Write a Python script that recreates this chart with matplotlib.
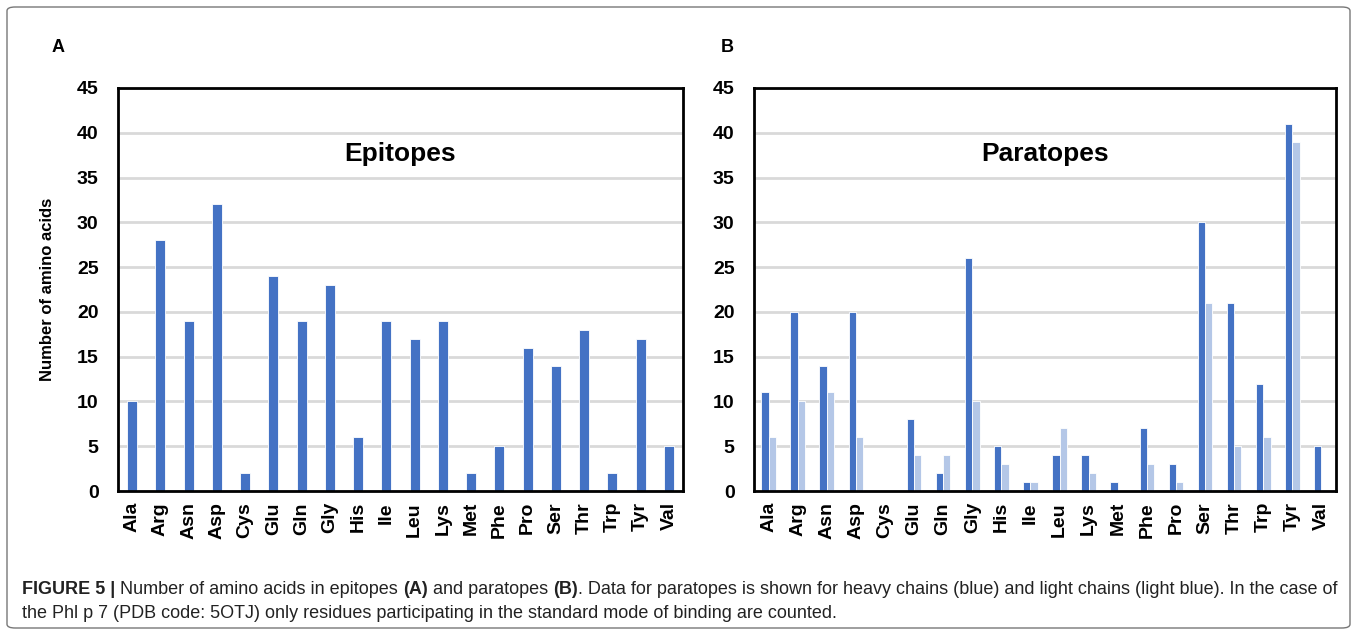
import numpy as np
import matplotlib
matplotlib.use("Agg")
import matplotlib.pyplot as plt
from matplotlib.patches import FancyBboxPatch

plt.rcParams['font.family'] = ['Liberation Sans', 'DejaVu Sans']

amino = ['Ala', 'Arg', 'Asn', 'Asp', 'Cys', 'Glu', 'Gln', 'Gly', 'His', 'Ile',
         'Leu', 'Lys', 'Met', 'Phe', 'Pro', 'Ser', 'Thr', 'Trp', 'Tyr', 'Val']
epitopes = [10, 28, 19, 32, 2, 24, 19, 23, 6, 19, 17, 19, 2, 5, 16, 14, 18, 2, 17, 5]
heavy = [11, 20, 14, 20, 0, 8, 2, 26, 5, 1, 4, 4, 1, 7, 3, 30, 21, 12, 41, 5]
light = [6, 10, 11, 6, 0, 4, 4, 10, 3, 1, 7, 2, 0, 3, 1, 21, 5, 6, 39, 0]
yticks = [0, 5, 10, 15, 20, 25, 30, 35, 40, 45]

BLUE = '#4472C4'
LIGHT = '#B4C7E7'

W, H = 1357, 635
fig = plt.figure(figsize=(W / 100, H / 100), dpi=100)

# outer rounded box
box = FancyBboxPatch((7 / W, 7 / H), (1343) / W, (621) / H,
                     boxstyle="round,pad=0,rounding_size=0.006",
                     transform=fig.transFigure, facecolor='none',
                     edgecolor='#777777', linewidth=1.0)
fig.patches.append(box)


def style_axes(ax, title):
    ax.set_ylim(0, 45)
    ax.set_xlim(-0.5, len(amino) - 0.5)
    ax.set_yticks(yticks)
    ax.set_xticks(np.arange(len(amino)))
    ax.set_xticklabels(amino, rotation=90, fontsize=14, fontweight='bold')
    for lab in ax.get_yticklabels():
        lab.set_fontsize(14)
        lab.set_fontweight('bold')
    ax.tick_params(axis='y', length=0, pad=14)
    ax.tick_params(axis='x', length=0, pad=8)
    ax.yaxis.grid(True, color='#D9D9D9', linewidth=2)
    ax.set_axisbelow(True)
    for s in ax.spines.values():
        s.set_linewidth(2)
        s.set_color('black')
    ax.text(0.5, 0.835, title, transform=ax.transAxes, ha='center',
            va='center', fontsize=19, fontweight='bold')


x = np.arange(len(amino))

# panel A
axA = fig.add_axes([118 / W, 1 - 491 / H, (683 - 118) / W, (491 - 88) / H])
axA.bar(x, epitopes, width=0.36, color=BLUE, edgecolor='white', linewidth=0.6)
style_axes(axA, 'Epitopes')
axA.set_ylabel('Number of amino acids', fontsize=12, fontweight='bold',
               labelpad=16)

# panel B
axB = fig.add_axes([754 / W, 1 - 491 / H, (1336 - 754) / W, (491 - 88) / H])
axB.bar(x - 0.125, heavy, width=0.25, color=BLUE, edgecolor='white', linewidth=0.6)
axB.bar(x + 0.125, light, width=0.25, color=LIGHT, edgecolor='white', linewidth=0.6)
style_axes(axB, 'Paratopes')

fig.text(52 / W, 1 - 47 / H, 'A', fontsize=13, fontweight='bold', va='center')
fig.text(721 / W, 1 - 47 / H, 'B', fontsize=13, fontweight='bold', va='center')

# caption
cap_y1 = 1 - 590 / H
cap_y2 = 1 - 614 / H
fs = 13.0
t = fig.text(22 / W, cap_y1, 'FIGURE 5 |', fontsize=fs, fontweight='bold',
             va='center', color='#222222')
parts = [(' Number of amino acids in epitopes ', 'normal'), ('(A)', 'bold'),
         (' and paratopes ', 'normal'), ('(B)', 'bold'),
         ('. Data for paratopes is shown for heavy chains (blue) and light chains (light blue). In the case of', 'normal')]
fig.canvas.draw()
r = fig.canvas.get_renderer()
xpos = t.get_window_extent(r).x1
for txt, w in parts:
    tt = fig.text(xpos / W, cap_y1, txt, fontsize=fs, fontweight=w,
                  va='center', color='#222222')
    xpos = tt.get_window_extent(r).x1
fig.text(22 / W, cap_y2,
         'the Phl p 7 (PDB code: 5OTJ) only residues participating in the standard mode of binding are counted.',
         fontsize=fs, va='center', color='#222222')

fig.savefig('out.png', dpi=100)
